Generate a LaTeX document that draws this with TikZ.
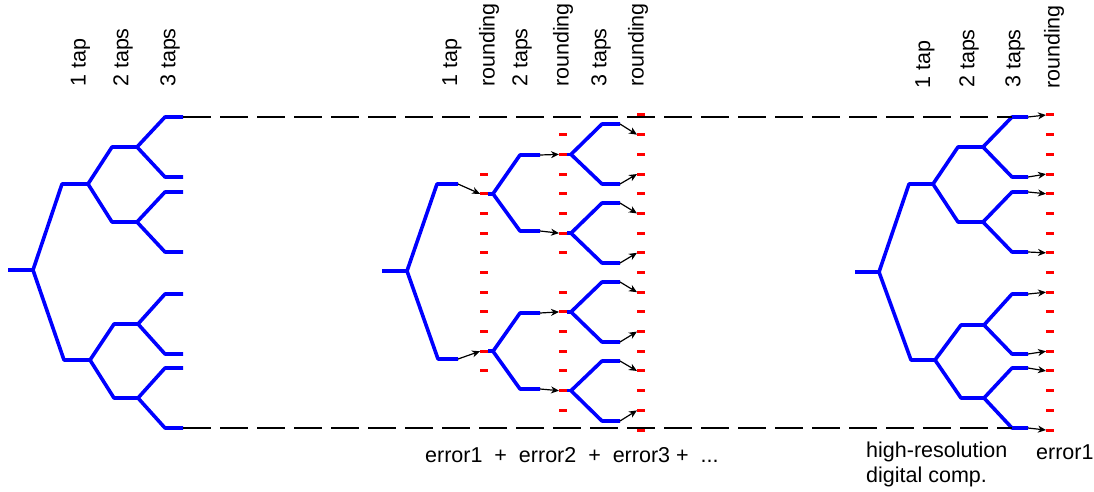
\documentclass[tikz,border=0pt]{standalone}
\usepackage{fontspec}
\setmainfont{Liberation Sans}
\usetikzlibrary{arrows.meta}

\begin{document}
\begin{tikzpicture}[x=1pt,y=-1pt,font=\fontsize{21.5}{25}\selectfont,
	>={Stealth[length=8pt,width=7pt,inset=2.5pt]}]
	
	\tikzset{
		tree/.style={draw=blue,line width=3.6pt,line join=round},
		level/.style={draw=red,line width=3pt},
		quant/.style={->,line width=1.2pt},
		guide/.style={line width=1.3pt,dash pattern=on 28pt off 9pt},
		tap/.style={rotate=90,anchor=west,inner sep=0pt},
	}
	
	\useasboundingbox (0,0) rectangle (1094,492);
	
	% y of rounding level k
	\newcommand{\lv}[1]{115+19.69*#1}
	
	% Macro: one arm of a tree, slanted to its corner, then flat
	% Arguments: start, corner x, corner y, end x, name of the end
	\newcommand{\Arm}[5]{%
		\coordinate (#5c) at (#2,#3);
		\coordinate (#5) at (#4,#3);
		\draw[tree] (#1) -- (#5c) -- (#5);
	}
	% Macro: arrow onto a rounding level
	% Arguments: start, level x, level k, name of the level point
	\newcommand{\Quant}[4]{%
		\coordinate (#4) at (#2,\lv{#3});
		\draw[quant] (#1) -- (#4);
	}
	% Macro: rounding, then a short stub to the next fork
	% Arguments: start, level x, level k, fork x, name of the fork
	\newcommand{\Round}[5]{%
		\Quant{#1}{#2}{#3}{#5q}
		\coordinate (#5) at (#4,\lv{#3});
		\draw[tree] ([xshift=8pt]#5q) -- (#5);
	}
	% Macro: column of rounding levels
	% Arguments: column x, list of level indices
	\newcommand{\Levels}[2]{%
		\foreach \k in {#2} \draw[level] (#1-4,\lv{\k}) -- (#1+4,\lv{\k});
	}
	
	%========================================
	% Rounding levels
	%========================================
	\Levels{484}{3,...,13}
	\Levels{563}{1,...,7,9,10,...,15}
	\Levels{641}{0,...,16}
	\Levels{1050}{0,...,16}
	
	%========================================
	% Left tree: exact taps
	%========================================
	\coordinate (Ls) at (8,270);
	\coordinate (Lr) at (33,270);
	\draw[tree] (Ls) -- (Lr);
	\Arm{Lr}{62}{184}{88}{La}
	\Arm{Lr}{64}{360}{90}{Lb}
	\Arm{La}{112}{147}{137}{Laa}
	\Arm{La}{112}{222}{137}{Lab}
	\Arm{Lb}{114}{324}{138}{Lba}
	\Arm{Lb}{114}{398}{138}{Lbb}
	\Arm{Laa}{165}{117}{183}{L1}
	\Arm{Laa}{165}{177}{183}{L2}
	\Arm{Lab}{165}{192}{183}{L3}
	\Arm{Lab}{165}{252}{183}{L4}
	\Arm{Lba}{165}{294}{183}{L5}
	\Arm{Lba}{165}{354}{183}{L6}
	\Arm{Lbb}{165}{368}{183}{L7}
	\Arm{Lbb}{165}{428}{183}{L8}
	
	\node[tap] (Ltap1) at (80.5,87) {1 tap};
	\node[tap] (Ltap2) at (123,87) {2 taps};
	\node[tap] (Ltap3) at (170,87) {3 taps};
	
	%========================================
	% Middle tree: rounding after every tap
	%========================================
	\coordinate (Ms) at (382,271);
	\coordinate (Mr) at (407,271);
	\draw[tree] (Ms) -- (Mr);
	\Arm{Mr}{437}{184}{458}{Ma}
	\Arm{Mr}{438}{359}{458}{Mb}
	
	\Round{Ma}{480}{4}{493}{MaJ}
	\Round{Mb}{480}{12}{493}{MbJ}
	\Arm{MaJ}{520}{155}{540}{Maa}
	\Arm{MaJ}{520}{231}{540}{Mab}
	\Arm{MbJ}{520}{313}{540}{Mba}
	\Arm{MbJ}{520}{389}{540}{Mbb}
	
	\Round{Maa}{559}{2}{571}{MaaJ}
	\Round{Mab}{559}{6}{571}{MabJ}
	\Round{Mba}{559}{10}{571}{MbaJ}
	\Round{Mbb}{559}{14}{571}{MbbJ}
	\Arm{MaaJ}{602}{124}{620}{M1}
	\Arm{MaaJ}{602}{184}{620}{M2}
	\Arm{MabJ}{602}{203}{620}{M3}
	\Arm{MabJ}{602}{263}{620}{M4}
	\Arm{MbaJ}{602}{282}{620}{M5}
	\Arm{MbaJ}{602}{342}{620}{M6}
	\Arm{MbbJ}{602}{361}{620}{M7}
	\Arm{MbbJ}{602}{421}{620}{M8}
	
	\Quant{M1}{637}{1}{Q1}
	\Quant{M2}{637}{3}{Q2}
	\Quant{M3}{637}{5}{Q3}
	\Quant{M4}{637}{7}{Q4}
	\Quant{M5}{637}{9}{Q5}
	\Quant{M6}{637}{11}{Q6}
	\Quant{M7}{637}{13}{Q7}
	\Quant{M8}{637}{15}{Q8}
	
	\node[tap] (Mtap1) at (452,87) {1 tap};
	\node[tap] (Mround1) at (489,87) {rounding};
	\node[tap] (Mtap2) at (522,87) {2 taps};
	\node[tap] (Mround2) at (563,87) {rounding};
	\node[tap] (Mtap3) at (601,87) {3 taps};
	\node[tap] (Mround3) at (638,87) {rounding};
	
	\node[anchor=base west,inner sep=0pt] (errsum) at (425,462)
	{error1~~+~~error2~~+~~error3~+~~...};
	
	%========================================
	% Right tree: rounding once at the end
	%========================================
	\coordinate (Rs) at (855,272);
	\coordinate (Rr) at (879,272);
	\draw[tree] (Rs) -- (Rr);
	\Arm{Rr}{909}{184}{933}{Ra}
	\Arm{Rr}{911}{360}{935}{Rb}
	\Arm{Ra}{958}{147}{983}{Raa}
	\Arm{Ra}{958}{222}{983}{Rab}
	\Arm{Rb}{961}{325}{984}{Rba}
	\Arm{Rb}{961}{398}{984}{Rbb}
	\Arm{Raa}{1012}{117}{1028}{R1}
	\Arm{Raa}{1012}{177}{1028}{R2}
	\Arm{Rab}{1012}{192}{1028}{R3}
	\Arm{Rab}{1012}{252}{1028}{R4}
	\Arm{Rba}{1012}{294}{1028}{R5}
	\Arm{Rba}{1012}{354}{1028}{R6}
	\Arm{Rbb}{1012}{368}{1028}{R7}
	\Arm{Rbb}{1012}{428}{1028}{R8}
	
	\Quant{R1}{1046}{0}{S1}
	\Quant{R2}{1046}{3}{S2}
	\Quant{R3}{1046}{4}{S3}
	\Quant{R4}{1046}{7}{S4}
	\Quant{R5}{1046}{9}{S5}
	\Quant{R6}{1046}{12}{S6}
	\Quant{R7}{1046}{13}{S7}
	\Quant{R8}{1046}{16}{S8}
	
	\node[tap] (Rtap1) at (925,89) {1 tap};
	\node[tap] (Rtap2) at (969,88) {2 taps};
	\node[tap] (Rtap3) at (1015,88) {3 taps};
	\node[tap] (Rround) at (1054,89) {rounding};
	
	\node[anchor=base west,inner sep=0pt,align=left] (hires) at (866,482)
	{high-resolution\\digital comp.};
	\node[anchor=base west,inner sep=0pt] (errone) at (1036,459) {error1};
	
	% Outer leaves lined up across all three trees
	\draw[guide] (L1) -- (R1c);
	\draw[guide] (L8) -- (R8c);
	
\end{tikzpicture}
\end{document}
